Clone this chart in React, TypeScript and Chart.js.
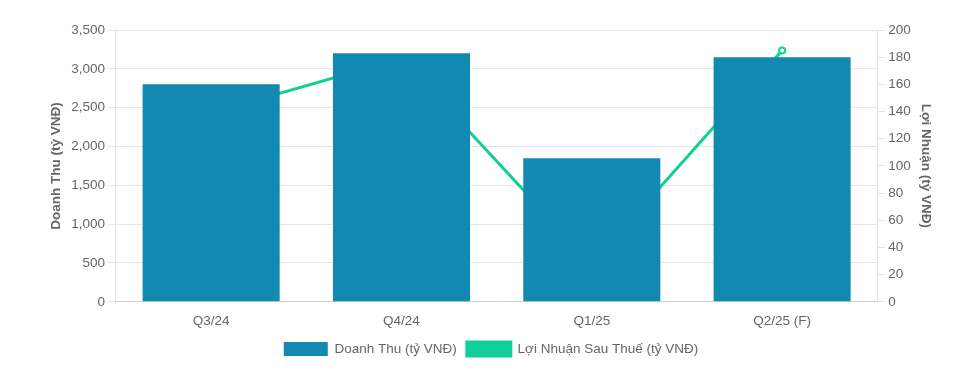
import React, { useEffect, useRef } from "react";
import { Chart, registerables } from "chart.js";

Chart.register(...registerables);

const categories = ["Q3/24", "Q4/24", "Q1/25", "Q2/25 (F)"];
const revenue = [2800, 3200, 1850, 3150];
const profit = [139, 179, 28, 185];
const revenueLabel = "Doanh Thu (tỷ VNĐ)";
const profitLabel = "Lợi Nhuận Sau Thuế (tỷ VNĐ)";
const leftTitle = "Doanh Thu (tỷ VNĐ)";
const rightTitle = "Lợi Nhuận (tỷ VNĐ)";

const FONT = "'Helvetica Neue', Helvetica, Arial, 'Liberation Sans', sans-serif";
const FS = 13.5;
const BAR = "#1289B1";
const GREEN = "#10CF97";
const GRAY = "#666666";

export default function App() {
  const ref = useRef<HTMLCanvasElement | null>(null);
  useEffect(() => {
    if (!ref.current) return;
    const chart = new Chart(ref.current, {
      type: "bar",
      data: {
        labels: categories,
        datasets: [
          {
            type: "bar",
            label: revenueLabel,
            data: revenue,
            backgroundColor: BAR,
            borderWidth: 0,
            yAxisID: "y",
            order: 1,
          },
          {
            type: "line",
            label: profitLabel,
            data: profit,
            borderColor: GREEN,
            backgroundColor: GREEN,
            borderWidth: 3,
            pointRadius: 3,
            pointBorderWidth: 2,
            pointBackgroundColor: "#ffffff",
            pointBorderColor: GREEN,
            tension: 0,
            yAxisID: "y1",
            order: 2,
          } as any,
        ],
      },
      options: {
        animation: false,
        responsive: false,
        maintainAspectRatio: false,
        layout: { padding: { left: 44, right: 28, top: 30, bottom: 5 } },
        plugins: {
          legend: {
            position: "bottom",
            labels: {
              boxWidth: 44,
              boxHeight: 14,
              color: GRAY,
              font: { family: FONT, size: FS },
            },
          },
          tooltip: { enabled: false },
        },
        scales: {
          x: {
            grid: { display: false },
            ticks: { color: GRAY, padding: 3, font: { family: FONT, size: FS } },
          },
          y: {
            position: "left",
            min: 0,
            max: 3500,
            ticks: {
              stepSize: 500,
              color: GRAY,
              font: { family: FONT, size: FS },
            },
            grid: { color: "#e6e6e6" },
            title: {
              display: true,
              text: leftTitle,
              color: GRAY,
              font: { family: FONT, size: FS, weight: "bold" },
            },
          },
          y1: {
            position: "right",
            min: 0,
            max: 200,
            ticks: {
              stepSize: 20,
              color: GRAY,
              font: { family: FONT, size: FS },
            },
            grid: { drawOnChartArea: false, color: "#e6e6e6" },
            title: {
              display: true,
              text: rightTitle,
              color: GRAY,
              font: { family: FONT, size: FS, weight: "bold" },
            },
          },
        },
      },
    });
    return () => chart.destroy();
  }, []);
  return (
    <div style={{ position: "absolute", left: 0, top: 0, width: 966, height: 371, background: "#fff" }}>
      <canvas ref={ref} width={966} height={371} style={{ width: 966, height: 371 }} />
    </div>
  );
}
